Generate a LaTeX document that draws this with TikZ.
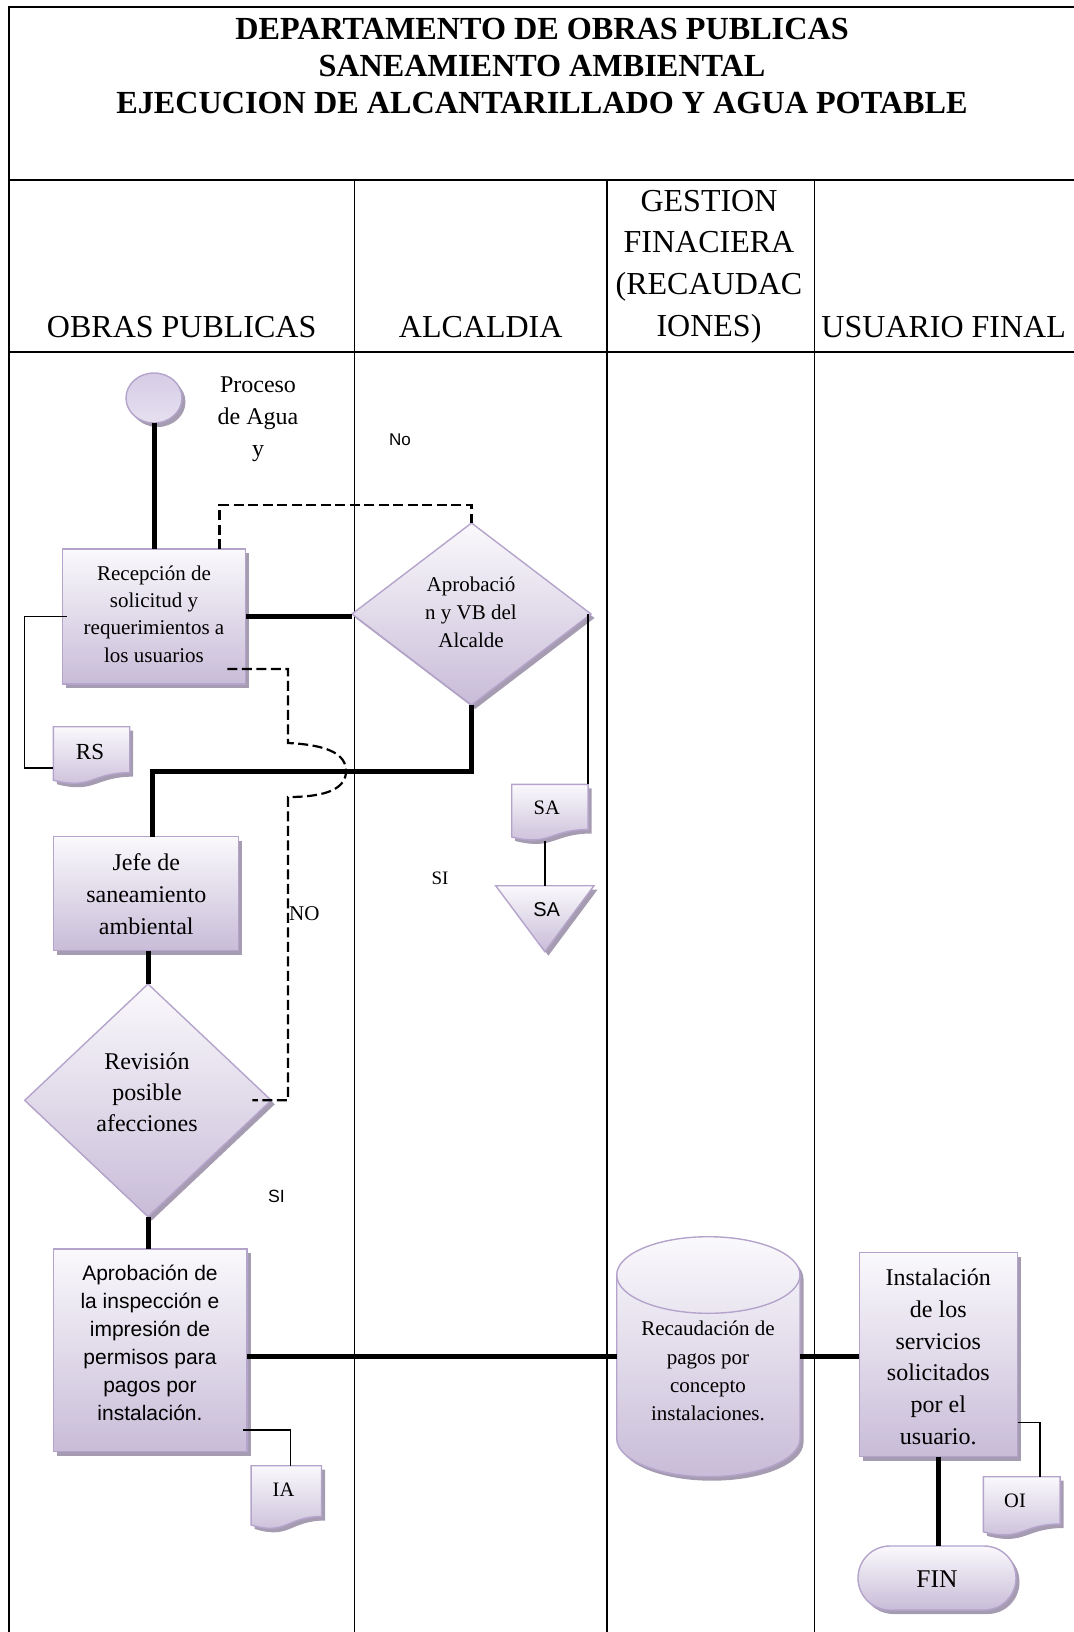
\documentclass[tikz,border=0pt]{standalone}
\usepackage{fontspec}
\setmainfont{Liberation Serif}
\newfontfamily\arialfont{Liberation Sans}
\usetikzlibrary{shapes.geometric,shadows,calc}

\definecolor{lavtop}{HTML}{FAF9FC}
\definecolor{lavbot}{HTML}{C8BCD8}
\definecolor{lavline}{HTML}{B4A4CB}
\definecolor{lavshadow}{HTML}{A69CB2}
\definecolor{dottop}{HTML}{D6CCE6}
\definecolor{dotbot}{HTML}{E6E0EF}

\newcommand\fsz[2]{\fontsize{#1}{#2}\selectfont}

% document symbol with a wavy lower edge, drawn over a named frame node
\newcommand\docshape[1]{%
  \path[flowfill] (#1.north west) -- (#1.north east)
    -- ($(#1.north east)!0.802!(#1.south east)$)
    .. controls ($(#1.north)!0.802!(#1.south)$) and ($(#1.north)!1.1075!(#1.south)$)
    .. ($(#1.north west)!0.934!(#1.south west)$) -- cycle;}

\tikzset{
  flowfill/.style={draw=lavline, line width=1.4pt, top color=lavtop, bottom color=lavbot,
    drop shadow={shadow xshift=3.5pt, shadow yshift=-4pt, fill=lavshadow, opacity=1}},
  sz/.style 2 args={minimum width=#1pt, minimum height=#2pt},
  procbox/.style={flowfill, rectangle, inner sep=0pt, outer sep=0pt},
  decision/.style={flowfill, diamond, inner sep=0pt, outer sep=0pt},
  docframe/.style={rectangle, inner sep=0pt, outer sep=0pt},
  startdot/.style={flowfill, ellipse, inner sep=0pt, outer sep=0pt, top color=dottop, bottom color=dotbot},
  endcap/.style={flowfill, rectangle, rounded corners=31.9pt, inner sep=0pt, outer sep=0pt},
  txt/.style={align=center, inner sep=0pt, outer sep=0pt},
  thickln/.style={line width=5pt},
  thinln/.style={line width=1.3pt},
  dashln/.style={line width=2.2pt, dash pattern=on 10pt off 4.5pt},
  gridln/.style={line width=2pt},
  laneln/.style={line width=1.6pt},
}

\begin{document}
\begin{tikzpicture}[x=1pt, y=1pt]
\useasboundingbox (0,0) rectangle (1073,-1632);

% ---- table frame and swimlanes
\draw[gridln] (9,-1640) -- (9,-7.3) -- (1080,-7.3);
\draw[gridln] (9,-180) -- (1080,-180);
\draw[gridln] (9,-352) -- (1080,-352);
\draw[laneln] (354.5,-180) -- (354.5,-1640);
\draw[laneln] (607,-180) -- (607,-1640);
\draw[laneln] (814.5,-180) -- (814.5,-1640);

% ---- titles
\node[txt, font=\bfseries\fsz{32.2}{37}] (title) at (542,-66)
  {DEPARTAMENTO DE OBRAS PUBLICAS\\SANEAMIENTO AMBIENTAL\\EJECUCION DE ALCANTARILLADO Y AGUA POTABLE};
\node[txt, font=\fsz{32}{41.7}, anchor=base] (lane1) at (181.7,-337) {OBRAS PUBLICAS};
\node[txt, font=\fsz{32}{41.7}, anchor=base] (lane2) at (480.7,-337) {ALCALDIA};
\node[txt, font=\fsz{32}{41.7}] (lane3) at (709,-266.6) {GESTION\\FINACIERA\\(RECAUDAC\\IONES)};
\node[txt, font=\fsz{32}{41.7}, anchor=base] (lane4) at (943.7,-337) {USUARIO FINAL};

% ---- shapes
\node[startdot, sz={56}{50}] (start) at (154,-398) {};
\node[procbox, sz={183.5}{135}] (recep) at (154,-616.5) {};
\node[decision, sz={239}{182}] (apr) at (471.5,-614) {};
\node[procbox, sz={185}{114}] (jefe) at (146,-893.7) {};
\node[decision, sz={246.5}{232.7}] (rev) at (148,-1100.3) {};
\node[procbox, sz={193.6}{202.7}] (aprr) at (150.2,-1350.3) {};
\node[procbox, sz={158.4}{204}] (inst) at (938.5,-1354.7) {};
\node[endcap, sz={158}{64}] (fin) at (937,-1578) {};

% cylinder (data store)
\node[docframe, sz={183.3}{240}] (cyl) at (708.35,-1356.7) {};
\path[flowfill] ($(cyl.north west)+(0,-38.3)$)
  arc[start angle=180, end angle=0, x radius=91.65, y radius=38.3]
  -- ($(cyl.south east)+(0,38.3)$)
  arc[start angle=0, end angle=-180, x radius=91.65, y radius=38.3] -- cycle;
\draw[draw=lavline, line width=1.4pt] ($(cyl.north west)+(0,-38.3)$)
  arc[start angle=180, end angle=360, x radius=91.65, y radius=38.3];

% off-page connector (inverted triangle)
\node[docframe, sz={98.3}{66}] (tri) at (544.85,-918.7) {};
\path[flowfill] (tri.north west) -- (tri.north east) -- (tri.south) -- cycle;

% documents
\node[docframe, sz={76.3}{57.3}] (rs) at (91.55,-755.35) {};
\node[docframe, sz={76.4}{56.4}] (sadoc) at (549.9,-812.5) {};
\node[docframe, sz={70.4}{63.4}] (ia) at (286.3,-1497.4) {};
\node[docframe, sz={76.7}{59}] (oi) at (1021.7,-1506.2) {};
\docshape{rs}
\docshape{sadoc}
\docshape{ia}
\docshape{oi}

% ---- connectors
\draw[thickln] (start.south) -- (recep.north);
\draw[thickln] (recep.east) -- (recep.east -| apr.west);

\coordinate (dq) at (219.5,-505);
\draw[dashln] (recep.north -| dq) -- (dq) -- (dq -| apr.north) -- (apr.north);

\coordinate (hopA) at (288,-669);
\coordinate (hopB) at (288,-743);
\coordinate (hopM) at (346,-771);
\coordinate (hopC) at (288,-797);
\draw[dashln] ($(recep.east |- hopA)+(-18.5,0)$) -- (hopA) -- (hopB)
  .. controls +(42,-2) and +(0,16) .. (hopM)
  .. controls +(0,-16) and +(42,0) .. (hopC)
  -- (hopC |- rev.east) -- ($(rev.east)+(-19,0)$);

\coordinate (jct) at (152,-771.7);
\draw[thickln] (apr.south) -- (apr.south |- jct) -- (jct) -- (jct |- jefe.north);
\draw[thickln] (rev.north |- jefe.south) -- (rev.north);
\draw[thickln] (rev.south) -- (rev.south |- aprr.north);
\draw[thickln] (aprr.east |- cyl.west) -- (cyl.west);
\draw[thickln] (cyl.east) -- (cyl.east -| inst.west);
\draw[thickln] (inst.south) -- (inst.south |- fin.north);

\coordinate (rsk) at (24.5,-768);
\draw[thinln] ($(recep.west)+(4.5,0)$) -- (recep.west -| rsk) -- (rsk) -- (rsk -| rs.west);
\draw[thinln] (sadoc.north east |- apr.east) -- (sadoc.north east);
\draw[thinln] (tri.north |- sadoc.south) -- (tri.north);
\draw[thinln] ($(aprr.south east)+(-4,21.7)$) -| ($(ia.north)+(4.3,0)$);
\draw[thinln] ($(inst.south east)+(0,34)$) -| ($(oi.north)+(18.3,0)$);

% ---- texts
\node[txt, font=\fsz{24}{31.8}] (proc-t) at (258,-419.2) {Proceso\\de Agua\\y};
\node[txt, font=\fsz{21}{27.4}] (recep-t) at (154,-613.9) {Recepción de\\solicitud y\\requerimientos a\\los usuarios};
\node[txt, font=\fsz{21}{28}] (apr-t) at (471,-612.5) {Aprobació\\n y VB del\\Alcalde};
\node[txt, font=\fsz{24}{32}] (jefe-t) at (146.3,-893.8) {Jefe de\\saneamiento\\ambiental};
\node[txt, font=\fsz{24}{30.85}] (rev-t) at (147,-1092.6) {Revisión\\posible\\afecciones};
\node[txt, font=\arialfont\fsz{21}{28}] (aprr-t) at (150,-1342.4)
  {Aprobación de\\la inspección e\\impresión de\\permisos para\\pagos por\\instalación.};
\node[txt, font=\fsz{21}{28.2}] (cyl-t) at (708,-1371.1) {Recaudación de\\pagos por\\concepto\\instalaciones.};
\node[txt, font=\fsz{24}{31.66}] (inst-t) at (938.3,-1356.9)
  {Instalación\\de los\\servicios\\solicitados\\por el\\usuario.};
\node[txt, font=\fsz{25.5}{30}, anchor=base] (fin-t) at (937,-1587.3) {FIN};
\node[txt, font=\fsz{23}{27}] (rs-t) at (90,-751.7) {RS};
\node[txt, font=\fsz{20.5}{25}] (sa-t) at (546.7,-808) {SA};
\node[txt, font=\fsz{20.5}{25}] (ia-t) at (283.5,-1490) {IA};
\node[txt, font=\fsz{20.5}{25}] (oi-t) at (1015,-1500.7) {OI};
\node[txt, font=\arialfont\fsz{20}{24}] (tri-t) at (546.7,-910) {SA};

% ---- branch labels
\node[txt, font=\arialfont\fsz{17}{20}] (lbl-no1) at (400,-440) {No};
\node[txt, font=\fsz{19}{22}] (lbl-si1) at (440,-878.3) {SI};
\node[txt, font=\fsz{21}{24}] (lbl-no2) at (304.3,-914) {NO};
\node[txt, font=\arialfont\fsz{17.7}{21}] (lbl-si2) at (276.4,-1196) {SI};
\end{tikzpicture}
\end{document}
